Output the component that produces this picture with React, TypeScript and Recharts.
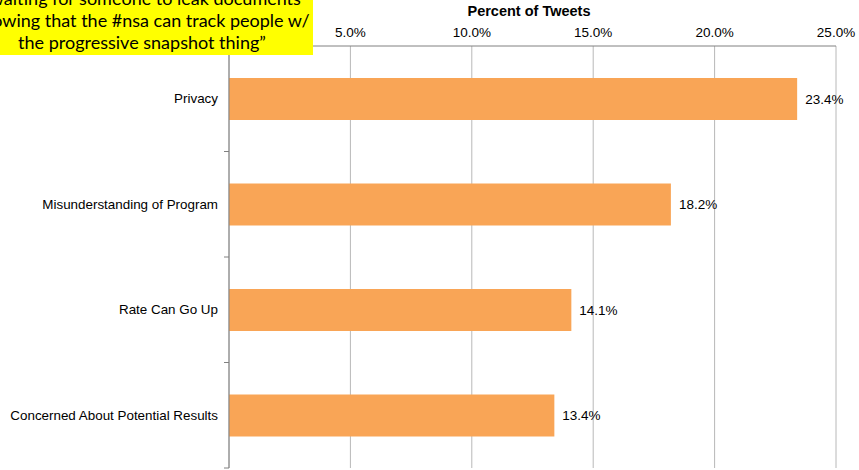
import React from "react";
import { BarChart, Bar, XAxis, YAxis, CartesianGrid, LabelList } from "recharts";

const categories = [
  "Privacy",
  "Misunderstanding of Program",
  "Rate Can Go Up",
  "Concerned About Potential Results",
];
const percents = [23.4, 18.2, 14.1, 13.4];
const xTicks = [5, 10, 15, 20, 25];
const quoteLines = [
  "\u201Cwaiting for someone to leak documents",
  "showing that the #nsa can track people w/",
  "the progressive snapshot thing\u201D",
];

const data = categories.map((name, i) => ({ name, value: percents[i] }));

const W = 859;
const H = 470;
const margin = { top: 0, right: 23, bottom: 2, left: 0 };
const xAxisH = 46;
const plotH = H - margin.top - margin.bottom - xAxisH;
const band = plotH / categories.length;
const font = "'Liberation Sans', Arial, sans-serif";

const YTick = (props: any) => {
  const { x, y, payload } = props;
  const axisX = x + 11;
  return (
    <g>
      <text x={x} y={y} textAnchor="end" dominantBaseline="central" fontSize={13.4} fill="#000" fontFamily={font}>
        {payload.value}
      </text>
      <line x1={axisX - 5} x2={axisX} y1={y + band / 2} y2={y + band / 2} stroke="#808080" />
    </g>
  );
};

export default function App() {
  return (
    <div style={{ position: "absolute", left: 0, top: 0, width: W, height: H, overflow: "hidden", background: "#fff" }}>
      <BarChart width={W} height={H} data={data} layout="vertical" margin={margin}>
        <CartesianGrid horizontal={false} stroke="#b8b8b8" />
        <XAxis
          type="number"
          orientation="top"
          domain={[0, 25]}
          ticks={xTicks}
          height={xAxisH}
          tickFormatter={(v: number) => v.toFixed(1) + "%"}
          tick={{ fontSize: 13.5, fill: "#000", fontFamily: font }}
          tickLine={false}
          axisLine={{ stroke: "#808080" }}
          tickMargin={3}
          tickSize={6}
        />
        <YAxis
          type="category"
          dataKey="name"
          width={229}
          tick={<YTick />}
          tickLine={false}
          tickSize={0}
          tickMargin={11}
          axisLine={{ stroke: "#808080" }}
          interval={0}
        />
        <Bar dataKey="value" fill="#F9A556" barSize={42} isAnimationActive={false}>
          <LabelList
            dataKey="value"
            position="right"
            offset={8}
            formatter={(v: any) => Number(v).toFixed(1) + "%"}
            style={{ fontSize: 13.5, fill: "#000", fontFamily: font }}
          />
        </Bar>
      </BarChart>
      <div
        style={{
          position: "absolute",
          left: 229,
          width: 600,
          top: 3,
          textAlign: "center",
          fontFamily: font,
          fontWeight: "bold",
          fontSize: 14.5,
        }}
      >
        Percent of Tweets
      </div>
      <div
        style={{
          position: "absolute",
          left: 0,
          top: 0,
          width: 313,
          height: 55,
          background: "#ffff00",
          overflow: "hidden",
        }}
      >
        <div
          style={{
            position: "absolute",
            left: 142 - 200,
            width: 400,
            top: -13,
            textAlign: "center",
            fontFamily: "Lato, 'Open Sans', sans-serif",
            fontSize: 18,
            lineHeight: "22px",
            color: "#000",
            whiteSpace: "nowrap",
          }}
        >
          {quoteLines.map((l) => (
            <div key={l}>{l}</div>
          ))}
        </div>
      </div>
    </div>
  );
}
